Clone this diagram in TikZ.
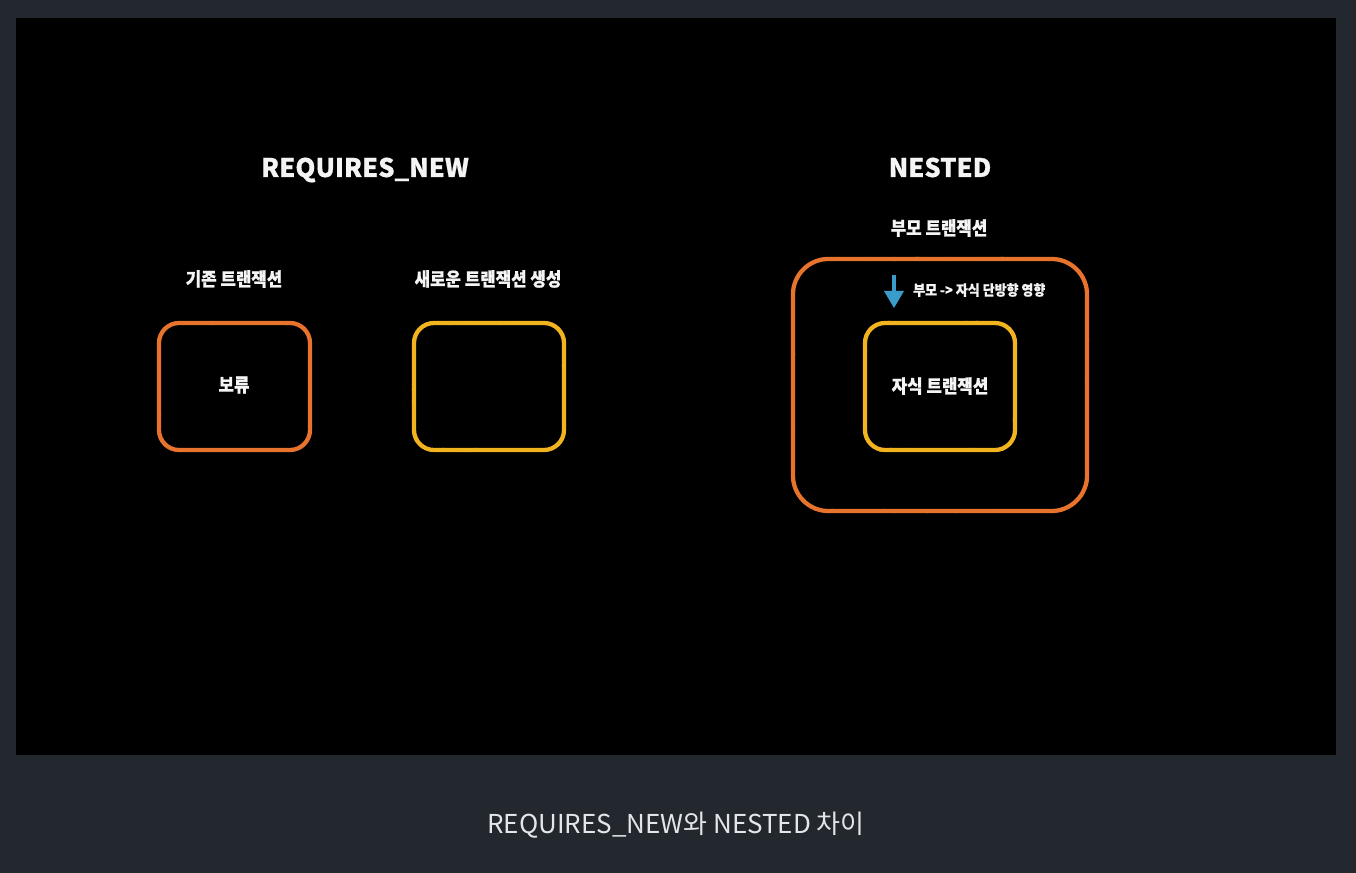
\documentclass[tikz,border=0pt]{standalone}
\usepackage{fontspec}
\usetikzlibrary{decorations.pathmorphing}
\newfontfamily\krb[FakeBold=0.6]{Noto Sans CJK KR}
\newfontfamily\krc[FakeStretch=0.9,FakeBold=0.6]{Noto Sans CJK KR}
\newfontfamily\krr{Noto Sans CJK KR}
\definecolor{outerbg}{HTML}{23272E}
\definecolor{chalkorange}{HTML}{E8732C}
\definecolor{chalkyellow}{HTML}{F2B41E}
\definecolor{chalkblue}{HTML}{3A9CCB}
\definecolor{chalkwhite}{HTML}{F4F4F4}
\definecolor{captiontext}{HTML}{E4E6EA}
\tikzset{
  chalkbox/.style={line width=3.2pt, line join=round,
    postaction={draw, line width=1.4pt, decorate,
      decoration={random steps, segment length=1.3pt, amplitude=0.9pt}}},
  title/.style={text=chalkwhite, font=\krb\bfseries\fontsize{19.2}{21}\selectfont, inner sep=0pt, anchor=base},
  label/.style={text=chalkwhite, font=\krc\bfseries\fontsize{14}{16}\selectfont, inner sep=0pt},
  smalllabel/.style={text=chalkwhite, font=\krc\bfseries\fontsize{10.8}{12}\selectfont, inner sep=0pt},
  caption/.style={text=captiontext, font=\krr\fontsize{19.5}{21}\selectfont, inner sep=0pt, anchor=base}
}
\begin{document}
\begin{tikzpicture}[x=0.75pt,y=-0.75pt]
  \useasboundingbox (0,0) rectangle (1356,873);
  \fill[outerbg] (0,0) rectangle (1356,873);
  \fill[black] (16,18) rectangle (1336,755);

  % titles
  \node[title] (t1) at (365,177) {REQUIRES\_NEW};
  \node[title] (t2) at (940,177) {NESTED};

  % REQUIRES_NEW labels
  \node[label] (l1) at (234,279) {기존 트랜잭션};
  \node[label] (l2) at (488,279) {새로운 트랜잭션 생성};

  % left orange box
  \draw[chalkbox, chalkorange]
    (179,323) -- (290,323) .. controls (301,323) and (310,332) .. (310,343)
    -- (310,430) .. controls (310,441) and (301,450) .. (290,450)
    -- (179,450) .. controls (168,450) and (159,441) .. (159,430)
    -- (159,343) .. controls (159,332) and (168,323) .. (179,323) -- cycle;
  \node[label] (b1) at (234,385) {보류};

  % yellow box
  \draw[chalkbox, chalkyellow]
    (434,323) -- (544,323) .. controls (555,323) and (564,332) .. (564,343)
    -- (564,430) .. controls (564,441) and (555,450) .. (544,450)
    -- (434,450) .. controls (423,450) and (414,441) .. (414,430)
    -- (414,343) .. controls (414,332) and (423,323) .. (434,323) -- cycle;

  % NESTED
  \node[label] (p) at (939,228) {부모 트랜잭션};
  \draw[chalkbox, chalkorange]
    (828,259) -- (1052,259) .. controls (1071,259) and (1087,275) .. (1087,294)
    -- (1087,476) .. controls (1087,495) and (1071,511) .. (1052,511)
    -- (828,511) .. controls (809,511) and (793,495) .. (793,476)
    -- (793,294) .. controls (793,275) and (809,259) .. (828,259) -- cycle;

  \draw[chalkbox, chalkyellow]
    (885,323) -- (995,323) .. controls (1006,323) and (1015,332) .. (1015,343)
    -- (1015,430) .. controls (1015,441) and (1006,450) .. (995,450)
    -- (885,450) .. controls (874,450) and (865,441) .. (865,430)
    -- (865,343) .. controls (865,332) and (874,323) .. (885,323) -- cycle;
  \node[label] (c) at (940,386) {자식 트랜잭션};

  % arrow
  \coordinate (atop) at (894,275);
  \coordinate (ahead) at (894,293);
  \coordinate (atip) at (894,308);
  \draw[chalkblue, line width=2.4pt] (atop) -- (ahead);
  \fill[chalkblue] (884,291) -- (904,291) -- (atip) -- cycle;
  \node[smalllabel, anchor=west] (s) at (913,290) {부모 -> 자식 단방향 영향};

  % caption
  \node[caption] (cap) at (676,833) {REQUIRES\_NEW와 NESTED 차이};
\end{tikzpicture}
\end{document}
